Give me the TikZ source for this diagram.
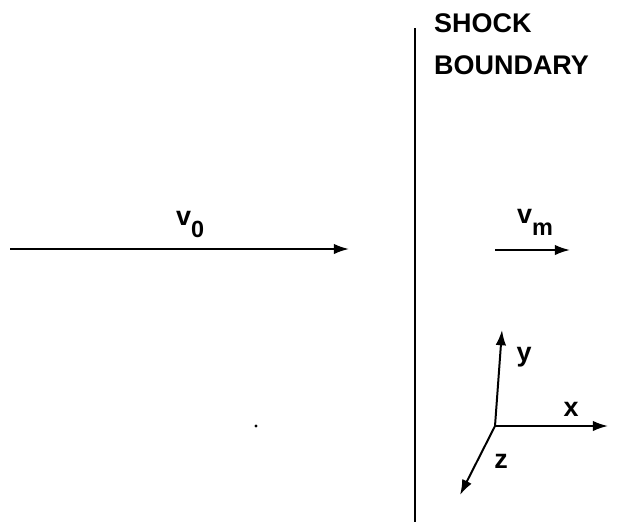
\documentclass[tikz,border=0pt]{standalone}
\usepackage{fontspec}
\setmainfont{Liberation Sans}
\usepackage{tikz}
\usetikzlibrary{arrows.meta,positioning}

\newcommand{\velsub}[1]{v\raisebox{-11pt}{\fontsize{20}{20}\selectfont #1}}

\begin{document}
\begin{tikzpicture}[
  x=0.03cm, y=-0.03cm,
  font=\fontsize{23}{36}\selectfont\bfseries,
  lbl/.style={inner sep=0pt},
  arr/.style={line width=1.7pt, -{Latex[length=13pt,width=9pt]}}
]
\useasboundingbox (0,0) rectangle (617,524);
% shock boundary
\coordinate (sbtop) at (415,28);
\coordinate (sbbot) at (415,522);
\draw[line width=2.4pt] (sbtop) -- (sbbot);
\node[lbl, anchor=north west, align=left] (shock) at (434,13) {SHOCK\\BOUNDARY};
% velocities
\coordinate (vostart) at (10,249);
\coordinate (voend) at (349,249);
\draw[arr] (vostart) -- (voend);
\node[lbl, anchor=base west] (vo) at (176,225) {\velsub{0}};
\coordinate (vmstart) at (495,250);
\coordinate (vmend) at (570,250);
\draw[arr] (vmstart) -- (vmend);
\node[lbl, anchor=base west] (vm) at (517,223) {\velsub{m}};
% axes
\coordinate (orig) at (495,426);
\coordinate (ytip) at (502,330);
\coordinate (xtip) at (608,426);
\coordinate (ztip) at (460,495);
\draw[arr] (orig) -- (ytip);
\draw[arr] (orig) -- (xtip);
\draw[arr] (orig) -- (ztip);
\node[lbl] (ylbl) at (524,357) {y};
\node[lbl] (xlbl) at (571,409) {x};
\node[lbl] (zlbl) at (501,461) {z};
\fill (256,426) circle (1.6);
\end{tikzpicture}
\end{document}
